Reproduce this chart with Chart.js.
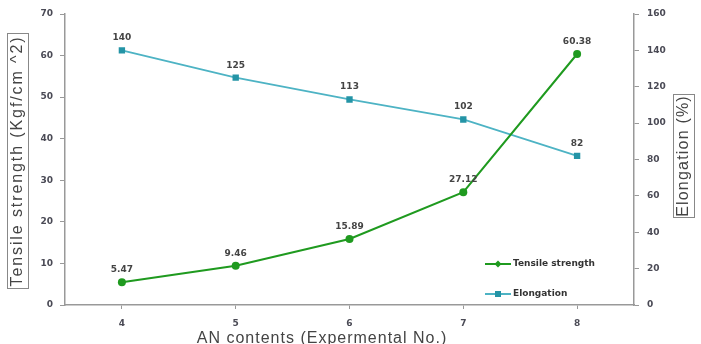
<!DOCTYPE html>
<html>
<head>
    <meta charset="UTF-8">
    <title>Tensile strength and Elongation</title>
    <script src="https://cdn.jsdelivr.net/npm/chart.js"></script>
    <style>
        html, body { margin: 0; padding: 0; background: #fff; }
        #wrap { width: 701px; height: 344px; }
    </style>
</head>
<body>
<div id="wrap"><canvas id="chart" width="701" height="344"></canvas></div>
<script>
    // data
    const labels = ['4', '5', '6', '7', '8'];
    const tensile = [5.47, 9.46, 15.89, 27.12, 60.38];
    const elongation = [140, 125, 113, 102, 82];
    const tensileLabels = ['5.47', '9.46', '15.89', '27.12', '60.38'];
    const elongLabels = ['140', '125', '113', '102', '82'];

    const green = '#1f9a1f';
    const tealLine = '#4db3c4';
    const tealMark = '#2494a6';
    const tickFont = { family: 'DejaVu Sans', size: 9, weight: 'bold' };

    // value labels above each point
    const pointLabels = {
        id: 'pointLabels',
        afterDatasetsDraw(chart) {
            const ctx = chart.ctx;
            ctx.save();
            ctx.font = 'bold 9px "DejaVu Sans"';
            ctx.fillStyle = '#444';
            ctx.textAlign = 'center';
            ctx.textBaseline = 'bottom';
            const texts = [tensileLabels, elongLabels];
            chart.data.datasets.forEach((ds, i) => {
                chart.getDatasetMeta(i).data.forEach((pt, j) => {
                    ctx.fillText(texts[i][j], pt.x, pt.y - 8);
                });
            });
            ctx.restore();
        }
    };

    // axis titles in boxes and legend inside plot
    const decorations = {
        id: 'decorations',
        afterDraw(chart) {
            const ctx = chart.ctx;
            ctx.save();
            ctx.fillStyle = '#444';
            ctx.strokeStyle = '#888';
            ctx.lineWidth = 1;

            // left title
            ctx.save();
            ctx.translate(18, 161);
            ctx.rotate(-Math.PI / 2);
            ctx.font = '16px "Liberation Sans"';
            ctx.letterSpacing = '1.9px';
            ctx.textAlign = 'center';
            ctx.textBaseline = 'middle';
            ctx.fillText('Tensile strength (Kgf/cm ^2)', 0, 0);
            ctx.letterSpacing = '0px';
            ctx.strokeRect(-127.5, -10.5, 255, 21);
            ctx.restore();

            // right title
            ctx.save();
            ctx.translate(684, 156);
            ctx.rotate(-Math.PI / 2);
            ctx.font = '16px "Liberation Sans"';
            ctx.letterSpacing = '1.2px';
            ctx.textAlign = 'center';
            ctx.textBaseline = 'middle';
            ctx.fillText('Elongation (%)', 0, 0);
            ctx.letterSpacing = '0px';
            ctx.strokeRect(-61.5, -10.5, 123, 21);
            ctx.restore();

            // x title
            ctx.font = '16px "Liberation Sans"';
            ctx.letterSpacing = '1px';
            ctx.textAlign = 'center';
            ctx.textBaseline = 'alphabetic';
            ctx.fillText('AN contents (Expermental No.)', 322, 343);
            ctx.letterSpacing = '0px';

            // legend
            const items = [
                { text: 'Tensile strength', line: green, mark: green, y: 264, shape: 'diamond' },
                { text: 'Elongation', line: tealLine, mark: tealMark, y: 294, shape: 'square' }
            ];
            items.forEach(it => {
                ctx.strokeStyle = it.line;
                ctx.lineWidth = 2;
                ctx.beginPath();
                ctx.moveTo(485, it.y);
                ctx.lineTo(511, it.y);
                ctx.stroke();
                ctx.fillStyle = it.mark;
                if (it.shape === 'diamond') {
                    ctx.beginPath();
                    ctx.moveTo(498, it.y - 3.5);
                    ctx.lineTo(501.5, it.y);
                    ctx.lineTo(498, it.y + 3.5);
                    ctx.lineTo(494.5, it.y);
                    ctx.closePath();
                    ctx.fill();
                } else {
                    ctx.fillRect(495, it.y - 3, 6, 6);
                }
                ctx.fillStyle = '#333';
                ctx.font = 'bold 9px "DejaVu Sans"';
                ctx.textAlign = 'left';
                ctx.textBaseline = 'middle';
                ctx.fillText(it.text, 513, it.y);
            });
            ctx.restore();
        }
    };

    new Chart(document.getElementById('chart').getContext('2d'), {
        type: 'line',
        data: {
            labels: labels,
            datasets: [{
                label: 'Tensile strength',
                data: tensile,
                yAxisID: 'y',
                borderColor: green,
                backgroundColor: green,
                borderWidth: 2,
                pointStyle: 'circle',
                pointRadius: 4,
                pointBorderWidth: 0,
                tension: 0
            }, {
                label: 'Elongation',
                data: elongation,
                yAxisID: 'y1',
                borderColor: tealLine,
                backgroundColor: tealMark,
                borderWidth: 1.8,
                pointStyle: 'rect',
                pointRadius: 4.5,
                pointBorderWidth: 0,
                tension: 0
            }]
        },
        options: {
            responsive: false,
            animation: false,
            layout: { padding: { top: 14, left: 0, right: 0, bottom: 0 } },
            plugins: {
                legend: { display: false },
                tooltip: { enabled: false }
            },
            scales: {
                x: {
                    offset: true,
                    grid: { drawOnChartArea: false, offset: false, tickLength: 4, color: '#999' },
                    border: { color: '#999', width: 1.5 },
                    ticks: { font: tickFont, color: '#4a4a55', padding: 9 },
                    afterFit(scale) { scale.height = 39; }
                },
                y: {
                    position: 'left',
                    min: 0, max: 70,
                    grid: { drawOnChartArea: false, tickLength: 5, color: '#999' },
                    border: { color: '#999', width: 1.5 },
                    ticks: { stepSize: 10, font: tickFont, color: '#4a4a55', padding: 7 },
                    afterFit(scale) { scale.width = 65; }
                },
                y1: {
                    position: 'right',
                    min: 0, max: 160,
                    grid: { drawOnChartArea: false, tickLength: 5, color: '#999' },
                    border: { color: '#999', width: 1.5 },
                    ticks: { stepSize: 20, font: tickFont, color: '#4a4a55', padding: 8 },
                    afterFit(scale) { scale.width = 67; }
                }
            }
        },
        plugins: [pointLabels, decorations]
    });
</script>
</body>
</html>
